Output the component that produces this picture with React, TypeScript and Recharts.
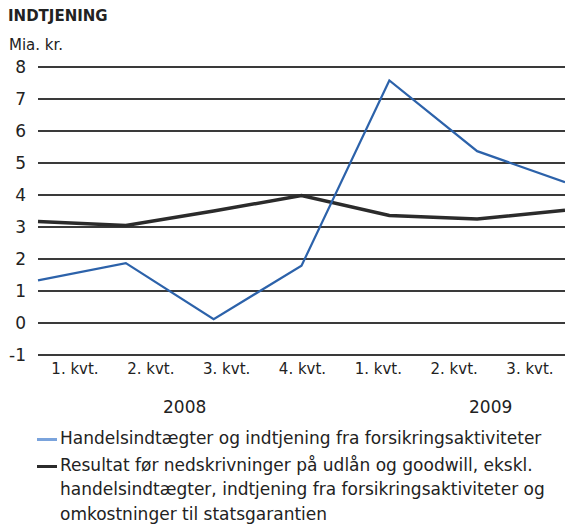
import { LineChart, Line, XAxis, YAxis, CartesianGrid } from 'recharts';

const quarters = ['1. kvt.', '2. kvt.', '3. kvt.', '4. kvt.', '1. kvt.', '2. kvt.', '3. kvt.'];
const handelsindtaegter = [1.33, 1.87, 0.12, 1.79, 7.58, 5.37, 4.4];
const resultat = [3.17, 3.05, 3.5, 3.98, 3.36, 3.25, 3.52];
const years = ['2008', '2009'];
const yTicks = [-1, 0, 1, 2, 3, 4, 5, 6, 7, 8];
const seriesNames = [
  'Handelsindtægter og indtjening fra forsikringsaktiviteter',
  'Resultat før nedskrivninger på udlån og goodwill, ekskl. handelsindtægter, indtjening fra forsikringsaktiviteter og omkostninger til statsgarantien',
];

const data = quarters.map((q, i) => ({
  quarter: q,
  handel: handelsindtaegter[i],
  resultat: resultat[i],
}));

const font = '"DejaVu Sans", sans-serif';
const BLUE = '#2c62aa';
const DARK = '#2b2b2b';

export default function App() {
  return (
    <div
      style={{
        position: 'absolute',
        left: 0,
        top: 0,
        width: 565,
        height: 524,
        background: '#fff',
        fontFamily: font,
        color: '#222',
        overflow: 'hidden',
      }}
    >
      <div style={{ position: 'absolute', left: 8, top: 7, fontSize: 15, fontWeight: 'bold' }}>
        INDTJENING
      </div>
      <div style={{ position: 'absolute', left: 9, top: 36, fontSize: 15 }}>Mia. kr.</div>

      <div style={{ position: 'absolute', left: 0, top: 0 }}>
        <LineChart
          width={565}
          height={425}
          data={data}
          margin={{ top: 67, right: 0, left: 0, bottom: 40 }}
        >
          <CartesianGrid vertical={false} stroke="#3a3a3a" strokeWidth={2} />
          <XAxis hide height={0} />
          <XAxis
            xAxisId="lab"
            dataKey="quarter"
            height={30}
            padding={{ left: 37, right: 35 }}
            axisLine={false}
            tickLine={false}
            tickMargin={2}
            interval={0}
            tick={{ fontSize: 15, fill: '#222', fontFamily: font }}
          />
          <YAxis
            width={38}
            domain={[-1, 8]}
            ticks={yTicks}
            axisLine={false}
            tickLine={false}
            tickMargin={6}
            tick={{ fontSize: 17, fill: '#222', fontFamily: font }}
          />
          <Line
            dataKey="resultat"
            stroke={DARK}
            strokeWidth={3.5}
            dot={false}
            isAnimationActive={false}
          />
          <Line
            dataKey="handel"
            stroke={BLUE}
            strokeWidth={2.2}
            dot={false}
            isAnimationActive={false}
          />
        </LineChart>
      </div>

      <div style={{ position: 'absolute', left: 163, top: 397, fontSize: 17 }}>{years[0]}</div>
      <div style={{ position: 'absolute', left: 469, top: 397, fontSize: 17 }}>{years[1]}</div>

      <div style={{ position: 'absolute', left: 37, top: 426, width: 526, fontSize: 17, lineHeight: '24.5px' }}>
        <div style={{ display: 'flex' }}>
          <div style={{ width: 20, height: 3, background: '#7aa3dc', marginTop: 12, marginRight: 3, flexShrink: 0 }} />
          <div>{seriesNames[0]}</div>
        </div>
        <div style={{ display: 'flex', marginTop: 2 }}>
          <div style={{ width: 20, height: 3, background: DARK, marginTop: 12, marginRight: 3, flexShrink: 0 }} />
          <div>{seriesNames[1]}</div>
        </div>
      </div>
    </div>
  );
}
